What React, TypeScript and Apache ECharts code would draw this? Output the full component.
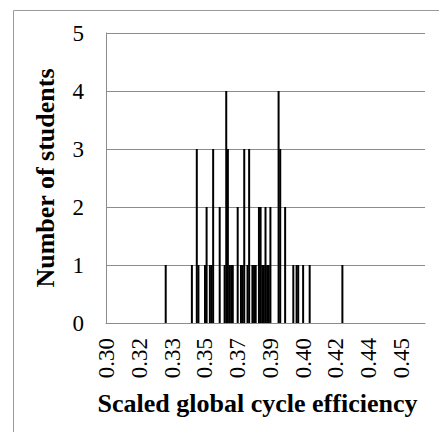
import React, { useEffect, useRef } from "react";
import * as echarts from "echarts";

// Category axis: 195 ordered efficiency slots; labels every 20th slot
const slotCount = 195;
const tickLabels = ["0.30", "0.32", "0.33", "0.35", "0.37", "0.39", "0.40", "0.42", "0.44", "0.45"];
const labelEvery = 20;

// Bars: slot index and number of students
const binIndex = [36, 52, 55, 56, 60, 61, 63, 64, 65, 69, 72, 73, 74, 75, 76, 77, 80, 82, 83, 84, 86, 87, 89, 90, 91, 93, 94, 95, 96, 97, 98, 99, 100, 105, 106, 109, 114, 116, 117, 120, 124, 144];
const counts = [1, 1, 3, 1, 1, 2, 1, 1, 3, 2, 1, 4, 3, 1, 1, 1, 2, 1, 1, 3, 1, 3, 1, 1, 1, 2, 2, 1, 1, 2, 1, 1, 2, 4, 3, 2, 1, 1, 1, 1, 1, 1];

const yTicks = [0, 1, 2, 3, 4, 5];

const FONT = "Liberation Serif";

export default function App() {
  const ref = useRef<HTMLDivElement>(null);
  useEffect(() => {
    if (!ref.current) return;
    const chart = echarts.init(ref.current, null, { renderer: "svg" });
    const categories = Array.from({ length: slotCount }, (_, i) => String(i));
    const values: (number | null)[] = Array.from({ length: slotCount }, () => null);
    binIndex.forEach((b, k) => {
      values[b] = counts[k];
    });
    chart.setOption({
      animation: false,
      backgroundColor: "#fff",
      textStyle: { fontFamily: FONT },
      graphic: [
        {
          type: "rect",
          shape: { x: 13.5, y: 10.5, width: 600, height: 600 },
          style: { fill: "none", stroke: "#9a9a9a", lineWidth: 1 },
          silent: true,
        },
      ],
      grid: { left: 106, right: 14, top: 33, bottom: 109 },
      xAxis: {
        type: "category",
        data: categories,
        boundaryGap: true,
        axisLine: { show: true, lineStyle: { color: "#8c8c8c", width: 1 } },
        axisTick: { show: false },
        axisLabel: {
          interval: labelEvery - 1,
          rotate: 90,
          margin: 15,
          color: "#000",
          fontFamily: FONT,
          fontSize: 23,
          formatter: (_v: string, i: number) => tickLabels[Math.round(i / labelEvery)] ?? "",
        },
        name: "Scaled global cycle efficiency",
        nameLocation: "middle",
        nameGap: 67,
        nameTextStyle: {
          color: "#000",
          fontFamily: FONT,
          fontSize: 26,
          fontWeight: "bold",
          padding: [0, 16, 0, 0],
        },
      },
      yAxis: {
        type: "value",
        min: yTicks[0],
        max: yTicks[yTicks.length - 1],
        interval: 1,
        axisLine: { show: true, lineStyle: { color: "#8c8c8c", width: 1 } },
        axisTick: { show: false },
        splitLine: { show: true, lineStyle: { color: "#8c8c8c", width: 1 } },
        axisLabel: {
          color: "#000",
          fontFamily: FONT,
          fontSize: 23,
          margin: 22,
        },
        name: "Number of students",
        nameLocation: "middle",
        nameGap: 48,
        nameTextStyle: {
          color: "#000",
          fontFamily: FONT,
          fontSize: 26,
          fontWeight: "bold",
        },
      },
      series: [
        {
          type: "bar",
          data: values,
          barWidth: 2,
          itemStyle: { color: "#000" },
        },
      ],
    });
    return () => chart.dispose();
  }, []);
  return (
    <div
      ref={ref}
      style={{ position: "absolute", left: 0, top: 0, width: 439, height: 432, background: "#fff" }}
    />
  );
}
